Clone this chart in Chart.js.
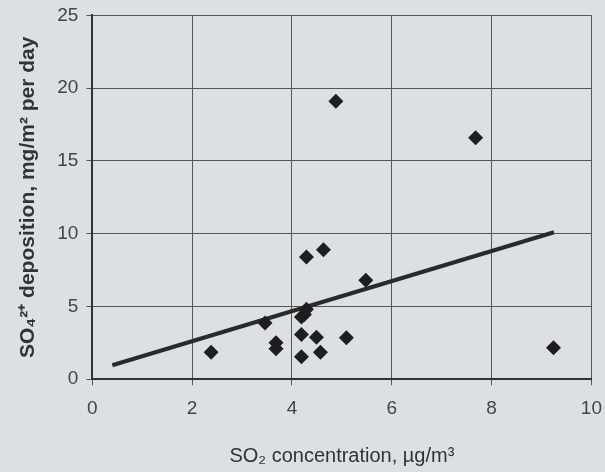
<!DOCTYPE html>
<html>
<head>
<meta charset="utf-8">
<script src="https://cdn.jsdelivr.net/npm/chart.js@4.4.1/dist/chart.umd.min.js"></script>
<style>
  html, body { margin: 0; padding: 0; background: #dcdfe3; overflow: hidden; }
  #wrap { position: relative; top: -4px; width: 614px; height: 476px; }
</style>
</head>
<body>
<div id="wrap"><canvas id="depChart"></canvas></div>
<script>
// SO2 concentration (ug/m3) vs SO4 deposition (mg/m2 per day)
const concX = [2.38, 3.46, 3.68, 3.68, 4.19, 4.25, 4.29, 4.19, 4.19, 4.49, 4.57, 5.09, 5.48, 4.29, 4.63, 4.88, 7.68, 9.24];
const depoY = [1.86, 3.86, 2.5, 2.1, 4.27, 4.45, 4.8, 3.08, 1.54, 2.89, 1.86, 2.84, 6.8, 8.4, 8.9, 19.1, 16.6, 2.16];
// fitted trend line end points
const trendX = [0.4, 9.25];
const trendY = [0.96, 10.1];
const xTicks = [0, 2, 4, 6, 8, 10];
const yTicks = [0, 5, 10, 15, 20, 25];

const bgPlugin = {
    id: 'bg',
    beforeDraw(chart) {
        const c = chart.ctx;
        c.save();
        c.fillStyle = '#dcdfe3';
        c.fillRect(0, 0, chart.width, chart.height);
        c.restore();
    }
};

const fontFam = "'Liberation Sans', Arial, sans-serif";

const ctx = document.getElementById('depChart');
new Chart(ctx, {
    type: 'scatter',
    data: {
        datasets: [
            {
                label: 'deposition',
                data: concX.map((x, i) => ({ x: x, y: depoY[i] })),
                pointStyle: 'rectRot',
                pointRadius: 7.5,
                backgroundColor: '#1e1e1e',
                borderColor: '#1e1e1e',
                borderWidth: 0
            },
            {
                label: 'trend',
                type: 'line',
                data: trendX.map((x, i) => ({ x: x, y: trendY[i] })),
                borderColor: '#2a2a2a',
                borderWidth: 4,
                pointRadius: 0,
                fill: false
            }
        ]
    },
    options: {
        responsive: true,
        maintainAspectRatio: false,
        animation: false,
        layout: { padding: { top: -6, right: 0, left: 12, bottom: 0 } },
        plugins: {
            legend: { display: false },
            tooltip: { enabled: false }
        },
        scales: {
            x: {
                type: 'linear',
                min: 0,
                max: 10,
                afterBuildTicks: (axis) => { axis.ticks = xTicks.map(v => ({ value: v })); },
                ticks: {
                    color: '#444',
                    font: { family: fontFam, size: 19 },
                    padding: 12
                },
                grid: { color: '#555', lineWidth: 1, tickLength: 6 },
                border: { color: '#333', width: 2 },
                title: {
                    display: true,
                    text: 'SO₂ concentration, µg/m³',
                    color: '#333',
                    font: { family: fontFam, size: 20 },
                    padding: { top: 12 }
                }
            },
            y: {
                type: 'linear',
                min: 0,
                max: 25,
                afterBuildTicks: (axis) => { axis.ticks = yTicks.map(v => ({ value: v })); },
                ticks: {
                    color: '#444',
                    font: { family: fontFam, size: 19 },
                    padding: 8
                },
                grid: { color: '#555', lineWidth: 1, tickLength: 6 },
                border: { color: '#333', width: 2 },
                title: {
                    display: true,
                    text: 'SO₄²⁺ deposition, mg/m² per day',
                    color: '#333',
                    font: { family: fontFam, size: 21, weight: 'bold' },
                    padding: { bottom: 8 }
                }
            }
        }
    },
    plugins: [bgPlugin]
});
</script>
</body>
</html>
